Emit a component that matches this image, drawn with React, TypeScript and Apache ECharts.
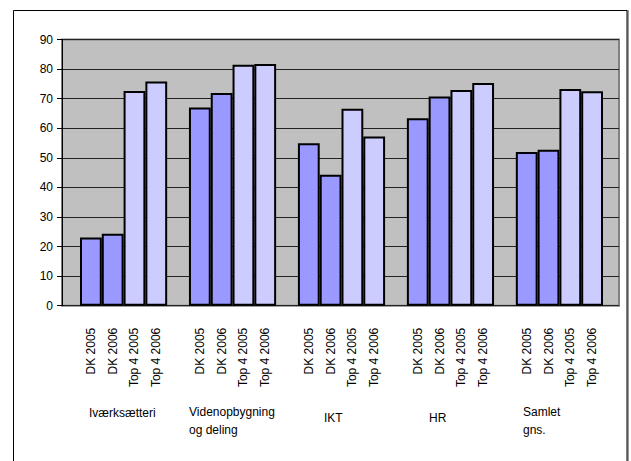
import React, { useEffect, useRef } from "react";
import * as echarts from "echarts";

const groups = ["Iværksætteri", "Videnopbygning\nog deling", "IKT", "HR", "Samlet\ngns."];
const seriesNames = ["DK 2005", "DK 2006", "Top 4 2005", "Top 4 2006"];
const dk2005 = [23.1, 67.0, 54.9, 63.4, 52.0];
const dk2006 = [24.3, 71.9, 44.3, 70.7, 52.7];
const top2005 = [72.6, 81.5, 66.6, 72.9, 73.3];
const top2006 = [75.8, 81.7, 57.2, 75.3, 72.5];
const yMin = 0;
const yMax = 90;
const yInterval = 10;

const seriesColors = ["#9999FF", "#9999FF", "#CCCCFF", "#CCCCFF"];

// group label placement (left x, top y)
const groupLabelPos = [
  [89, 404],
  [189, 403],
  [324, 409],
  [429, 409],
  [523, 403],
];

export default function App() {
  const ref = useRef<HTMLDivElement>(null);

  useEffect(() => {
    if (!ref.current) return;
    const chart = echarts.init(ref.current, undefined, { renderer: "svg" });

    const allSeries = [dk2005, dk2006, top2005, top2006];
    const categories: string[] = [];
    const data: any[] = [];
    groups.forEach((g, gi) => {
      seriesNames.forEach((s, si) => {
        categories.push(s);
        data.push({
          value: allSeries[si][gi],
          itemStyle: { color: seriesColors[si] },
        });
      });
      if (gi < groups.length - 1) {
        categories.push(" ".repeat(gi + 1));
        data.push("-");
      }
    });

    const font = "Arial, 'Liberation Sans', sans-serif";
    const gridTop = 39.5;
    const gridBottom = 461 - 305.7;

    chart.setOption({
      animation: false,
      backgroundColor: "#fff",
      grid: [
        {
          left: 62,
          right: 12,
          top: gridTop,
          bottom: gridBottom,
          show: true,
          backgroundColor: "#C0C0C0",
          borderColor: "#808080",
          borderWidth: 2,
        },
        {
          left: 80,
          right: 28,
          top: gridTop,
          bottom: gridBottom,
        },
      ],
      xAxis: [
        { gridIndex: 0, type: "category", data: [""], show: false },
        {
          gridIndex: 1,
          type: "category",
          data: categories,
          boundaryGap: true,
          axisLine: { show: false },
          axisTick: { show: false },
          axisLabel: {
            rotate: 90,
            interval: 0,
            margin: 22,
            color: "#000",
            fontFamily: font,
            fontSize: 12,
          },
        },
      ],
      yAxis: [
        {
          gridIndex: 0,
          type: "value",
          min: yMin,
          max: yMax,
          interval: yInterval,
          axisLine: { show: true, lineStyle: { color: "#000", width: 1 } },
          axisTick: { show: true, inside: false, length: 5, lineStyle: { color: "#000" } },
          axisLabel: { color: "#000", fontFamily: font, fontSize: 12, margin: 9 },
          splitLine: { show: true, lineStyle: { color: "#222", width: 1 } },
        },
        {
          gridIndex: 1,
          type: "value",
          min: yMin,
          max: yMax,
          interval: yInterval,
          show: false,
          splitLine: { show: false },
        },
      ],
      series: [
        {
          type: "bar",
          xAxisIndex: 1,
          yAxisIndex: 1,
          data,
          barCategoryGap: "0%",
          itemStyle: { borderColor: "#000", borderWidth: 2 },
        },
      ],
      graphic: [
        {
          type: "rect",
          shape: { x: 13.5, y: 10.5, width: 613.5, height: 470 },
          style: { fill: "none", stroke: "#000", lineWidth: 1 },
          silent: true,
        },
        {
          type: "line",
          shape: { x1: 628, y1: 10, x2: 628, y2: 461 },
          style: { stroke: "#333", lineWidth: 1 },
          silent: true,
        },
        ...groups.map((g, i) => ({
          type: "text",
          left: groupLabelPos[i][0],
          top: groupLabelPos[i][1],
          style: {
            text: g,
            fill: "#000",
            font: `12px ${font}`,
            lineHeight: 18,
            textAlign: "left",
          },
          silent: true,
        })),
      ],
    });

    return () => chart.dispose();
  }, []);

  return (
    <div
      ref={ref}
      style={{ position: "absolute", left: 0, top: 0, width: 631, height: 461 }}
    />
  );
}
